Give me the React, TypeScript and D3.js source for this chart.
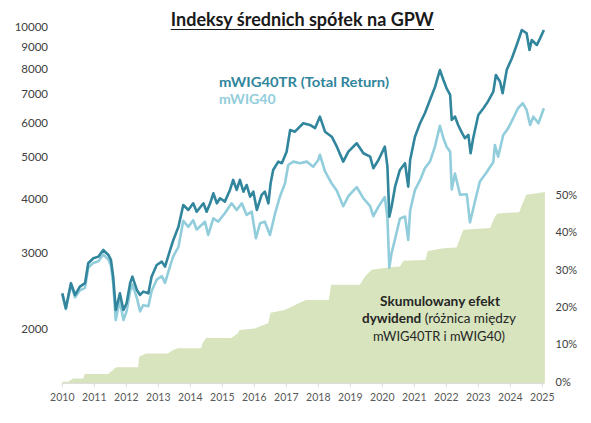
import React from "react";
import * as d3 from "d3";

// ---- data (decimal year, value) ----
const mwig40trDates = [
  2010.00, 2010.11, 2010.27, 2010.40, 2010.55, 2010.71, 2010.81, 2010.97, 2011.13, 2011.28,
  2011.44, 2011.52, 2011.59, 2011.67, 2011.75, 2011.80, 2011.91, 2012.01, 2012.12, 2012.19,
  2012.33, 2012.43, 2012.53, 2012.69, 2012.79, 2012.95, 2013.11, 2013.21, 2013.37, 2013.47,
  2013.63, 2013.78, 2013.94, 2014.09, 2014.20, 2014.41, 2014.51, 2014.62, 2014.72, 2014.83,
  2014.93, 2015.08, 2015.24, 2015.34, 2015.45, 2015.55, 2015.66, 2015.76, 2015.87, 2015.97,
  2016.08, 2016.23, 2016.33, 2016.44, 2016.51, 2016.59, 2016.75, 2016.86, 2017.01, 2017.12,
  2017.27, 2017.53, 2017.74, 2017.90, 2018.05, 2018.21, 2018.42, 2018.58, 2018.78, 2018.94,
  2019.20, 2019.41, 2019.62, 2019.72, 2019.88, 2020.08, 2020.16, 2020.22, 2020.29, 2020.40,
  2020.55, 2020.71, 2020.81, 2020.87, 2021.02, 2021.18, 2021.33, 2021.49, 2021.65, 2021.80,
  2021.91, 2022.01, 2022.12, 2022.17, 2022.27, 2022.37, 2022.47, 2022.58, 2022.69, 2022.76,
  2022.84, 2023.00, 2023.16, 2023.30, 2023.47, 2023.55, 2023.68, 2023.76, 2023.89, 2024.05,
  2024.20, 2024.36, 2024.51, 2024.60, 2024.67, 2024.83, 2024.93, 2025.05,
];
const mwig40trValues = [
  2421, 2236, 2555, 2400, 2509, 2555, 2841, 2917, 2943, 3049,
  2969, 2891, 2645, 2216, 2337, 2421, 2216, 2296, 2555, 2645,
  2465, 2400, 2443, 2421, 2645, 2815, 2865, 2790, 3049, 3215,
  3451, 3873, 3772, 3908, 3737, 3908, 3737, 3908, 4122, 3908,
  4014, 3943, 4196, 4425, 4196, 4425, 4158, 4308, 4049, 4158,
  3772, 4086, 4158, 3908, 4348, 4667, 4878, 4837, 5143, 5773,
  5721, 5983, 5929, 5830, 6196, 5721, 5570, 5282, 4878, 5143,
  5379, 5100, 5008, 4709, 4921, 5282, 4749, 3640, 3838, 4270,
  4667, 4837, 4270, 4921, 5570, 5983, 6310, 6774, 7268, 7943,
  7532, 7205, 6955, 6088, 6200, 5929, 5721, 5525, 5623, 5100,
  5525, 6252, 6479, 6712, 7079, 7735, 7463, 7017, 7950, 8453,
  9073, 9826, 9655, 8837, 9317, 9073, 9400, 9826,
];
const mwig40Dates = [
  2010.00, 2010.11, 2010.27, 2010.40, 2010.55, 2010.71, 2010.81, 2010.97, 2011.13, 2011.28,
  2011.44, 2011.52, 2011.59, 2011.67, 2011.75, 2011.80, 2011.91, 2012.01, 2012.12, 2012.19,
  2012.33, 2012.43, 2012.53, 2012.69, 2012.79, 2012.95, 2013.11, 2013.21, 2013.37, 2013.47,
  2013.63, 2013.78, 2013.94, 2014.09, 2014.20, 2014.46, 2014.56, 2014.72, 2014.87, 2015.08,
  2015.29, 2015.45, 2015.61, 2015.76, 2015.92, 2016.05, 2016.18, 2016.33, 2016.49, 2016.65,
  2016.80, 2016.96, 2017.06, 2017.22, 2017.43, 2017.64, 2017.84, 2018.00, 2018.05, 2018.21,
  2018.42, 2018.58, 2018.78, 2018.94, 2019.20, 2019.41, 2019.62, 2019.72, 2019.88, 2020.08,
  2020.16, 2020.22, 2020.29, 2020.40, 2020.55, 2020.71, 2020.81, 2020.87, 2021.02, 2021.18,
  2021.33, 2021.49, 2021.65, 2021.80, 2021.91, 2022.01, 2022.12, 2022.17, 2022.27, 2022.43,
  2022.64, 2022.74, 2022.90, 2023.05, 2023.26, 2023.47, 2023.52, 2023.62, 2023.78, 2023.93,
  2024.09, 2024.24, 2024.39, 2024.51, 2024.62, 2024.72, 2024.88, 2025.05,
];
const mwig40Values = [
  2410, 2225, 2530, 2370, 2460, 2493, 2772, 2846, 2871, 2975,
  2897, 2807, 2556, 2100, 2241, 2321, 2100, 2201, 2450, 2536,
  2363, 2200, 2273, 2260, 2449, 2604, 2653, 2560, 2800, 2952,
  3100, 3560, 3448, 3572, 3400, 3544, 3302, 3609, 3544, 3706,
  3908, 3772, 3908, 3673, 3737, 3245, 3514, 3544, 3302, 3706,
  4049, 4348, 4792, 4878, 4837, 4878, 4749, 4921, 5060, 4630,
  4340, 4179, 3848, 4060, 4262, 4010, 3852, 3650, 3840, 4040,
  3617, 2775, 3000, 3235, 3600, 3642, 3215, 3760, 4194, 4420,
  4709, 4880, 5300, 5900, 5525, 5282, 5143, 4205, 4580, 4090,
  4100, 3530, 3960, 4391, 4610, 4870, 5330, 5008, 5620, 5822,
  6143, 6480, 6656, 6421, 5929, 6196, 5983, 6479,
];
const dividendDates = [
  2010.00, 2010.18, 2010.34, 2010.66, 2010.70, 2011.43, 2011.68, 2012.37, 2012.40, 2012.62,
  2013.30, 2013.46, 2013.62, 2014.34, 2014.38, 2014.50, 2015.28, 2015.49, 2015.54, 2016.01,
  2016.43, 2016.51, 2016.95, 2017.37, 2017.62, 2018.33, 2018.40, 2019.30, 2019.46, 2019.67,
  2020.20, 2020.55, 2020.66, 2021.35, 2021.42, 2021.91, 2022.32, 2022.53, 2023.37, 2023.52,
  2023.60, 2024.28, 2024.35, 2024.50, 2025.08,
];
const dividendPct = [
  0.4, 0.4, 1.3, 1.3, 2.5, 2.5, 4.3, 4.3, 7.1, 8.0,
  8.0, 8.9, 9.4, 9.4, 10.7, 12.1, 12.1, 13.4, 14.3, 14.7,
  16.1, 18.9, 19.6, 21.4, 22.3, 22.3, 26.4, 26.4, 28.6, 30.4,
  31.0, 31.3, 32.8, 33.0, 35.4, 36.2, 36.4, 41.1, 41.6, 44.6,
  45.5, 45.8, 47.5, 50.5, 51.2,
];
const yearTicks = d3.range(2010, 2026);
const leftTicks = [2000, 3000, 4000, 5000, 6000, 7000, 8000, 9000, 10000];
const rightTicks = [0, 10, 20, 30, 40, 50];

const titleText = "Indeksy średnich spółek na GPW";
const legendTR = "mWIG40TR (Total Return)";
const legendPrice = "mWIG40";

const W = 591;
const H = 423;
const FONT = "Lato, 'Open Sans', sans-serif";
const DARK = "#31859C";
const LIGHT = "#92CDDC";
const GREEN = "#D7E4BD";

export default function App() {
  const x = d3.scaleLinear().domain([2010, 2025]).range([62.3, 542.3]);
  const yL = d3.scaleLog().domain([1500, 10000]).range([383.3, 26.7]);
  const yR = d3.scaleLinear().domain([0, 95.5]).range([383.3, 26.7]);

  const trPts = mwig40trDates.map((d, i) => [d, mwig40trValues[i]] as [number, number]);
  const prPts = mwig40Dates.map((d, i) => [d, mwig40Values[i]] as [number, number]);
  const divPts = dividendDates.map((d, i) => [d, dividendPct[i]] as [number, number]);

  const line = d3
    .line<[number, number]>()
    .x((d) => x(d[0]))
    .y((d) => yL(d[1]));
  const area = d3
    .area<[number, number]>()
    .x((d) => x(d[0]))
    .y0(yR(0))
    .y1((d) => yR(d[1]));

  const base = yR(0);

  return (
    <svg
      width={W}
      height={H}
      style={{ position: "absolute", left: 0, top: 0, background: "#fff" }}
      fontFamily={FONT}
    >
      <rect x={0} y={0} width={W} height={H} fill="#fff" />
      {/* area */}
      <path d={area(divPts) || ""} fill={GREEN} />
      {/* lines */}
      <path d={line(prPts) || ""} fill="none" stroke={LIGHT} strokeWidth={2.6} strokeLinejoin="round" />
      <path d={line(trPts) || ""} fill="none" stroke={DARK} strokeWidth={2.6} strokeLinejoin="round" />

      {/* x axis */}
      <line x1={x(2010)} x2={x(2025) + 2} y1={base} y2={base} stroke="#d9d9d9" strokeWidth={1} />
      {yearTicks.map((t) => (
        <g key={t}>
          <line x1={x(t)} x2={x(t)} y1={base} y2={base + 4} stroke="#d9d9d9" strokeWidth={1} />
          <text x={x(t)} y={400.5} textAnchor="middle" fontSize={10.5} fill="#595959">
            {t}
          </text>
        </g>
      ))}

      {/* left axis labels */}
      {leftTicks.map((t) => (
        <text key={t} x={48} y={yL(t)} dy="0.35em" textAnchor="end" fontSize={11.5} fill="#404040">
          {t}
        </text>
      ))}
      {/* right axis labels */}
      {rightTicks.map((t) => (
        <text key={t} x={555.5} y={yR(t) - 1.5} dy="0.35em" textAnchor="start" fontSize={11} fill="#404040">
          {t}%
        </text>
      ))}

      {/* title */}
      <text x={302.3} y={26} textAnchor="middle" fontSize={18} fontWeight="bold" fill="#1a1a1a" textLength={263} lengthAdjust="spacingAndGlyphs">
        {titleText}
      </text>
      <line x1={170.7} x2={434} y1={29.5} y2={29.5} stroke="#1a1a1a" strokeWidth={1.2} />

      {/* legend */}
      <text x={219} y={87.3} fontSize={14} fontWeight="bold" fill={DARK} textLength={170} lengthAdjust="spacingAndGlyphs">
        {legendTR}
      </text>
      <text x={219} y={104} fontSize={14} fontWeight="bold" fill={LIGHT} textLength={56.7} lengthAdjust="spacingAndGlyphs">
        {legendPrice}
      </text>

      {/* annotation */}
      <text x={440} y={306} textAnchor="middle" fontSize={13.5} fontWeight="bold" fill="#262626" textLength={120} lengthAdjust="spacingAndGlyphs">
        Skumulowany efekt
      </text>
      <text x={439} y={323.3} textAnchor="middle" fontSize={13.5} fill="#262626">
        <tspan fontWeight="bold">dywidend</tspan>
        <tspan> (różnica między</tspan>
      </text>
      <text x={439} y={341.3} textAnchor="middle" fontSize={13.5} fill="#262626" textLength={132} lengthAdjust="spacingAndGlyphs">
        mWIG40TR  i mWIG40)
      </text>
    </svg>
  );
}
